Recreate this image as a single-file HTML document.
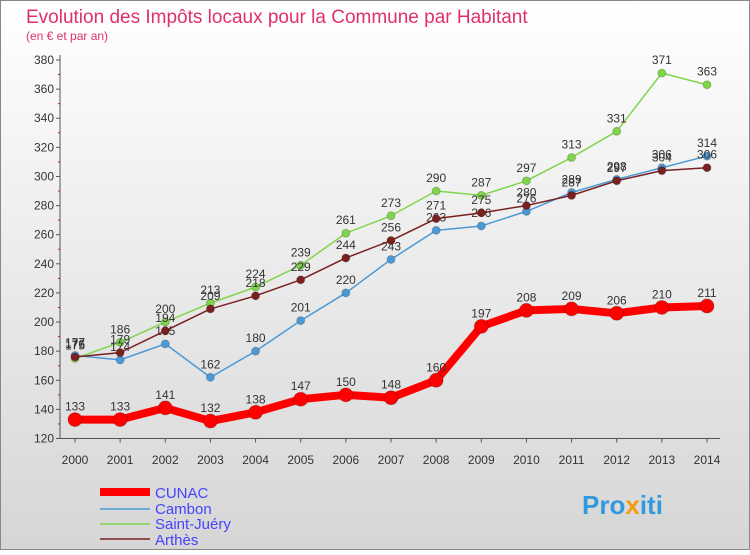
<!DOCTYPE html>
<html><head><meta charset="utf-8"><style>
body{margin:0;width:750px;height:550px;overflow:hidden;font-family:"Liberation Sans",sans-serif}
</style></head><body>
<svg width="750" height="550" xmlns="http://www.w3.org/2000/svg">
<defs><linearGradient id="bg" x1="0" y1="0" x2="0" y2="1"><stop offset="0" stop-color="#ffffff"/><stop offset="1" stop-color="#d6d6d6"/></linearGradient></defs>
<rect x="0.5" y="0.5" width="749" height="549" fill="url(#bg)" stroke="#888"/>
<text x="26" y="23" font-size="19" fill="#e0306a">Evolution des Impôts locaux pour la Commune par Habitant</text>
<text x="26" y="40" font-size="12" fill="#e0306a">(en € et par an)</text>
<g id="axes"></g><g id="series"></g>
<g>
<line x1="100" y1="492" x2="150" y2="492" stroke="#ff0000" stroke-width="8"/>
<text x="155" y="498" font-size="15" fill="#4444ff">CUNAC</text>
<line x1="100" y1="509" x2="150" y2="509" stroke="#4b9ad6" stroke-width="1.5"/>
<text x="155" y="514" font-size="15" fill="#4444ff">Cambon</text>
<line x1="100" y1="524" x2="150" y2="524" stroke="#7fd64b" stroke-width="1.5"/>
<text x="155" y="529" font-size="15" fill="#4444ff">Saint-Juéry</text>
<line x1="100" y1="539" x2="150" y2="539" stroke="#7a2020" stroke-width="1.5"/>
<text x="155" y="545" font-size="15" fill="#4444ff">Arthès</text>
</g>
<text x="582" y="514" font-size="26" font-weight="bold" fill="#3399dd">Pro<tspan fill="#f39c12">x</tspan>iti</text>
</svg>
<script>
const years=[2000,2001,2002,2003,2004,2005,2006,2007,2008,2009,2010,2011,2012,2013,2014];
const cunac=[133,133,141,132,138,147,150,148,160,197,208,209,206,210,211];
const cambon=[177,174,185,162,180,201,220,243,263,266,276,289,298,306,314];
const saintJuery=[175,186,200,213,224,239,261,273,290,287,297,313,331,371,363];
const arthes=[176,179,194,209,218,229,244,256,271,275,280,287,297,304,306];
const yTicks=[120,140,160,180,200,220,240,260,280,300,320,340,360,380];
const NS="http://www.w3.org/2000/svg";
const xs=i=>75+i*(707-75)/(years.length-1);
const ys=v=>60+(380-v)*(438.5-60)/260;
function mk(t,a,p){const e=document.createElementNS(NS,t);for(const k in a)e.setAttribute(k,a[k]);p.appendChild(e);return e;}
const ax=document.getElementById('axes');
yTicks.forEach(v=>{
 const l=mk('line',{x1:56,x2:60,y1:ys(v),y2:ys(v),stroke:'#555'},ax);
 
 
 const t=mk('text',{x:54,y:ys(v)+4,'font-size':12,'text-anchor':'end',fill:'#333'},ax);t.textContent=v;
 
 
});
for(let v=130;v<380;v+=20){const m=mk('line',{x1:58,x2:60,y1:ys(v),y2:ys(v),stroke:'#e00'},ax);
 
 }
const ya=mk('line',{x1:60,x2:60,y1:55,y2:ys(120),stroke:'#555'},ax);


const xa=mk('line',{x1:60,x2:720,y1:ys(120),y2:ys(120),stroke:'#555'},ax);


years.forEach((y,i)=>{
 const tk=mk('line',{x1:xs(i),x2:xs(i),y1:ys(120),y2:ys(120)+4,stroke:'#555'},ax);
 
 
 const t=mk('text',{x:xs(i),y:464,'font-size':12,'text-anchor':'middle',fill:'#333'},ax);t.textContent=y;
 
 
});
const sg=document.getElementById('series');
function draw(data,color,w,r,name){
 const g=mk('g',{},sg);
 
 
 const pl=mk('polyline',{points:data.map((v,i)=>xs(i)+','+ys(v)).join(' '),fill:'none',stroke:color,'stroke-width':w,'stroke-linejoin':'round'},g);
 
 
 data.forEach((v,i)=>{
  const c=mk('circle',{cx:xs(i),cy:ys(v),r:r,fill:color,stroke:'#0003'},g);
  
  
  const t=mk('text',{x:xs(i),y:ys(v)-9,'font-size':12,'text-anchor':'middle',fill:'#333'},g);t.textContent=v;
  
  
 });
}
draw(saintJuery,'#7fd64b',1.5,4,'saint-juery');
draw(cambon,'#4b9ad6',1.5,4,'cambon');
draw(arthes,'#7a2020',1.5,4,'arthes');
draw(cunac,'#ff0000',8,7,'cunac');
</script>
</body></html>
